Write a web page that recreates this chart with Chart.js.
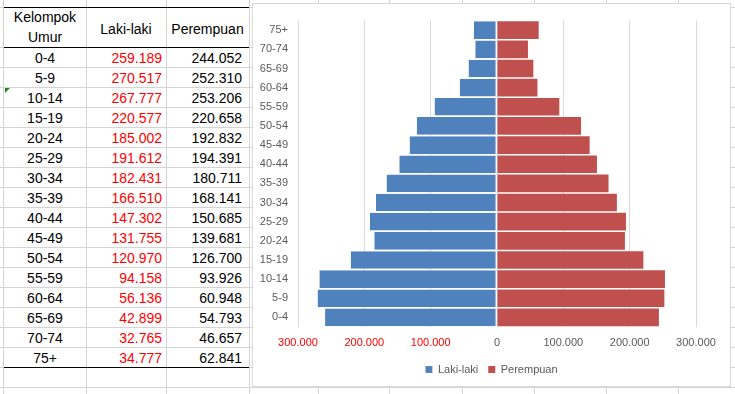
<!DOCTYPE html>
<html>
<head>
<meta charset="utf-8">
<script src="https://cdn.jsdelivr.net/npm/chart.js@4"></script>
<style>
    html, body { margin: 0; padding: 0; }
    body {
        width: 735px; height: 394px; overflow: hidden; position: relative;
        background: #fff; font-family: "Liberation Sans", Arial, sans-serif;
    }
    .hline, .vline { position: absolute; background: #d4d4d4; }
    .hline { height: 1px; left: 0; width: 735px; }
    .vline { width: 1px; top: 0; height: 394px; }
    .border { position: absolute; height: 1px; background: #000; left: 4px; width: 245px; }
    .cell { position: absolute; font-size: 14px; line-height: 20px; color: #000; white-space: nowrap; }
    .red { color: #ff0000; }
    .flag {
        position: absolute; left: 5px; top: 88px; width: 0; height: 0;
        border-top: 5px solid #1e8a1e; border-right: 5px solid transparent;
    }
    #chartBox {
        position: absolute; left: 252px; top: 3px; width: 477px; height: 382px;
        border: 1px solid #d9d9d9; background: #fff;
    }
</style>
</head>
<body>
<div id="sheet"></div>
<div id="chartBox"><canvas id="pyramid" width="477" height="382"></canvas></div>

<script>
// Data
const ageGroups = ['0-4', '5-9', '10-14', '15-19', '20-24', '25-29', '30-34', '35-39',
    '40-44', '45-49', '50-54', '55-59', '60-64', '65-69', '70-74', '75+'];
const maleValues = [259189, 270517, 267777, 220577, 185002, 191612, 182431, 166510,
    147302, 131755, 120970, 94158, 56136, 42899, 32765, 34777];
const femaleValues = [244052, 252310, 253206, 220658, 192832, 194391, 180711, 168141,
    150685, 139681, 126700, 93926, 60948, 54793, 46657, 62841];
const seriesNames = ['Laki-laki', 'Perempuan'];
const headerAge = ['Kelompok', 'Umur'];
const axisMin = -300000;
const axisMax = 300000;
const axisStep = 100000;

function formatNumber(value) {
    return Math.abs(value).toString().replace(/\B(?=(\d{3})+(?!\d))/g, '.');
}

// Spreadsheet background + table
function buildSheet() {
    const sheet = document.getElementById('sheet');
    const add = (cls, style, text) => {
        const el = document.createElement('div');
        el.className = cls;
        Object.assign(el.style, style);
        if (text !== undefined) el.textContent = text;
        sheet.appendChild(el);
        return el;
    };

    const rowLines = [7];
    for (let y = 47; y <= 394; y += 20) rowLines.push(y);
    rowLines.forEach(y => add('hline', { top: y + 'px' }));

    const colLines = [3, 86, 166, 249, 318, 389, 462, 534, 606, 678];
    colLines.forEach(x => add('vline', { left: x + 'px' }));

    // table borders
    add('border', { top: '7px' });
    add('border', { top: '47px' });
    add('border', { top: (47 + ageGroups.length * 20) + 'px' });

    // header
    add('cell', { left: '4px', width: '82px', top: '7px', textAlign: 'center' }, headerAge[0]);
    add('cell', { left: '4px', width: '82px', top: '27px', textAlign: 'center' }, headerAge[1]);
    add('cell', { left: '86px', width: '80px', top: '19px', textAlign: 'center' }, seriesNames[0]);
    add('cell', { left: '166px', width: '83px', top: '19px', textAlign: 'center' }, seriesNames[1]);

    ageGroups.forEach((age, i) => {
        const top = (48 + i * 20) + 'px';
        add('cell', { left: '4px', width: '82px', top: top, textAlign: 'center' }, age);
        add('cell red', { left: '86px', width: '76px', top: top, textAlign: 'right' }, formatNumber(maleValues[i]));
        add('cell', { left: '166px', width: '76px', top: top, textAlign: 'right' }, formatNumber(femaleValues[i]));
    });

    add('flag', {});
}

buildSheet();

// Chart
const tickFont = { family: '"Liberation Sans", Arial, sans-serif', size: 11 };

new Chart(document.getElementById('pyramid').getContext('2d'), {
    type: 'bar',
    data: {
        labels: ageGroups,
        datasets: [
            {
                label: seriesNames[0],
                data: maleValues.map(v => -v),
                backgroundColor: '#4f81bd',
                borderColor: '#e4e4e4',
                borderWidth: { top: 0, bottom: 0, left: 0, right: 1 },
                borderSkipped: false,
                categoryPercentage: 1,
                barPercentage: 0.92
            },
            {
                label: seriesNames[1],
                data: femaleValues,
                backgroundColor: '#c0504d',
                borderWidth: 0,
                categoryPercentage: 1,
                barPercentage: 0.92
            }
        ]
    },
    options: {
        indexAxis: 'y',
        responsive: false,
        animation: false,
        layout: { padding: { top: 13, right: 0, left: 0, bottom: 1 } },
        plugins: {
            tooltip: { enabled: false },
            legend: {
                position: 'bottom',
                labels: {
                    boxWidth: 7,
                    boxHeight: 7,
                    padding: 10,
                    color: '#595959',
                    font: tickFont
                }
            }
        },
        scales: {
            x: {
                stacked: true,
                min: axisMin,
                max: axisMax,
                grid: { color: '#d9d9d9', drawTicks: false },
                border: { display: false },
                ticks: {
                    stepSize: axisStep,
                    padding: 9,
                    font: tickFont,
                    maxRotation: 0,
                    color: ctx => (ctx.tick && ctx.tick.value < 0 ? '#ff0000' : '#595959'),
                    callback: value => formatNumber(value)
                },
                afterFit: scale => { scale.height = 27; }
            },
            y: {
                stacked: true,
                reverse: true,
                grid: { display: false, drawTicks: false },
                border: { display: false },
                ticks: { padding: 10, color: '#595959', font: tickFont },
                afterFit: scale => { scale.width = 45; }
            },
            spacer: {
                type: 'linear',
                position: 'right',
                grid: { display: false, drawTicks: false },
                border: { display: false },
                ticks: { display: false },
                afterFit: scale => { scale.width = 34; }
            }
        }
    }
});
</script>
</body>
</html>
